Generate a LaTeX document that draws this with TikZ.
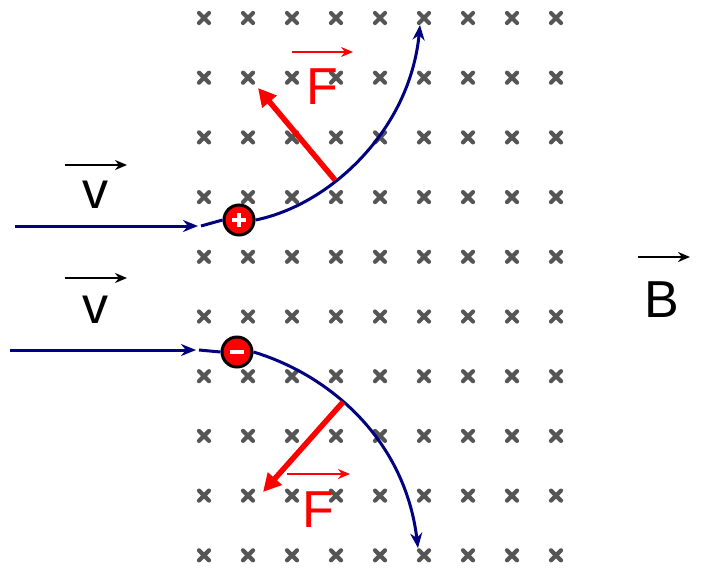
\documentclass[tikz,border=0pt]{standalone}
\usepackage{fontspec}
\setmainfont{Liberation Sans}
\usetikzlibrary{arrows.meta}
\definecolor{path-blue}{HTML}{000080}
\definecolor{cross-gray}{HTML}{555555}
\tikzset{cross/.style = {draw=cross-gray, line width=4.2pt, line cap=round}}
\tikzset{track/.style = {draw=path-blue, line width=3pt}}
\tikzset{trackarr/.style = {track, -{Stealth[length=15pt,width=12pt]}}}
\tikzset{force/.style = {draw=red, line width=5.5pt, -{Stealth[length=18pt,width=18pt,inset=0pt]}}}
\tikzset{charge/.style = {circle, draw=black, line width=3pt, fill=red, minimum size=30pt, inner sep=0pt}}
\tikzset{vec/.style = {font=\fontsize{52}{57}\selectfont}}
\tikzset{vecarr/.style = {line width=2.6pt, -{Stealth[length=12pt,width=10pt]}}}
\begin{document}
\begin{tikzpicture}[x=1pt, y=-1pt]
\useasboundingbox (0,0) rectangle (711,576);

% field into the page
\foreach \i in {0,...,8}
  \foreach \j in {0,...,9} {
    \pgfmathsetmacro{\cx}{204+44*\i}
    \pgfmathsetmacro{\cy}{18+59.7*\j}
    \draw[cross] (\cx-5,\cy-5) -- (\cx+5,\cy+5) (\cx-5,\cy+5) -- (\cx+5,\cy-5);
  }

\node[charge] (pos) at (239,220) {};
\node[charge] (neg) at (237,352) {};
\draw[white, line width=3.5pt] (pos.center) ++(-7,0) -- ++(14,0) (pos.center) ++(0,-7) -- ++(0,14);
\draw[white, line width=3.5pt] (neg.center) ++(-7,0) -- ++(14,0);

% positive particle
\coordinate (pin) at (15,226);
\coordinate (pend) at (198,226);
\draw[trackarr] (pin) -- (pend);
\draw[track] (201,226) -- (pos.west);
\draw[trackarr] (pos.east) .. controls (330,205) and (410,130) .. (420,25);
\coordinate (pf) at (335,180);
\draw[force] (pf) -- (258,88);
\node[vec, red] (F1) at (322,87) {F};
\draw[vecarr, red] (292,52) -- (353,52);
\node[vec] (v1) at (95,195) {v};
\draw[vecarr] (65,165) -- (127,165);

% negative particle
\coordinate (nin) at (10,350);
\coordinate (nend) at (196,350);
\draw[trackarr] (nin) -- (nend);
\draw[track] (199,350) -- (neg.west);
\draw[trackarr] (neg.east) .. controls (330,375) and (405,440) .. (418,548);
\coordinate (nf) at (343,402);
\draw[force] (nf) -- (263,492);
\node[vec, red] (F2) at (318,510) {F};
\draw[vecarr, red] (287,474) -- (350,474);
\node[vec] (v2) at (95,310) {v};
\draw[vecarr] (65,278) -- (127,278);

% field label
\node[vec] (B) at (662,300) {B};
\draw[vecarr] (638,257) -- (690,257);

\end{tikzpicture}
\end{document}
